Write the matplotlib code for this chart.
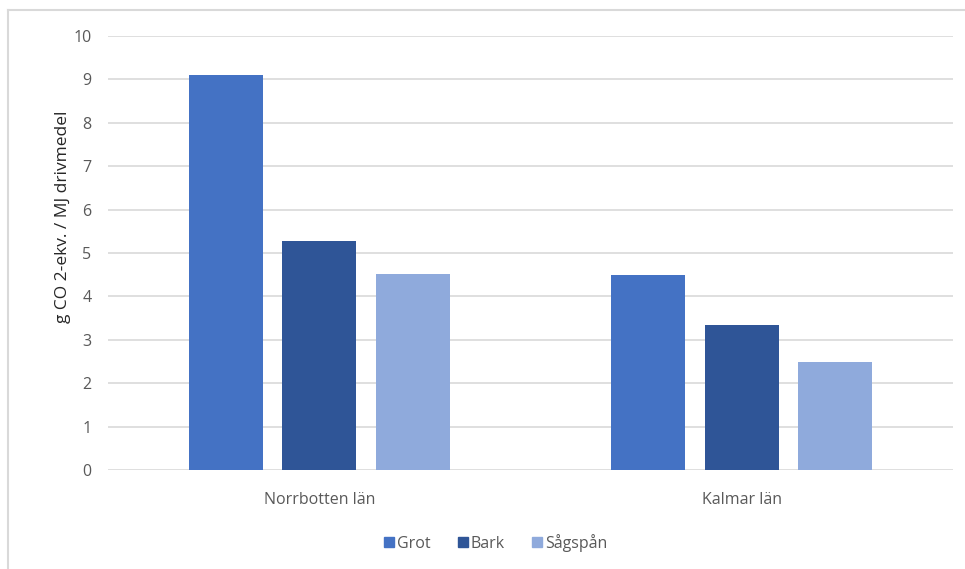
import numpy as np
import matplotlib.pyplot as plt
from matplotlib.lines import Line2D

plt.rcParams["font.family"] = ["Open Sans", "DejaVu Sans"]

regions = ["Norrbotten län", "Kalmar län"]
series = ["Grot", "Bark", "Sågspån"]
grot = [9.1, 4.5]
bark = [5.28, 3.35]
sagspan = [4.52, 2.5]
y_ticks = list(range(0, 11))

colors = ["#4472c4", "#2f5597", "#8faadc"]
TICK = "#595959"

fig = plt.figure(figsize=(9.65, 5.69), dpi=100)
ax = fig.add_axes([108 / 965, 1 - 470 / 569, 845 / 965, 434 / 569])

x = np.arange(len(regions))
width = 0.175
offset = 0.221
for i, (vals, name) in enumerate(zip([grot, bark, sagspan], series)):
    ax.bar(x + (i - 1) * offset, vals, width=width, color=colors[i],
           label=name, zorder=3)

ax.set_xlim(-0.5, 1.5)
ax.set_ylim(0, 10)
ax.set_yticks(y_ticks)
ax.set_xticks(x)
ax.set_xticklabels(regions)
ax.grid(axis="y", color="#d9d9d9", linewidth=1.2, zorder=0)
for s in ax.spines.values():
    s.set_visible(False)
ax.tick_params(axis="both", length=0, colors=TICK, labelsize=11.5)
ax.tick_params(axis="y", pad=12)
ax.tick_params(axis="x", pad=16)

fig.text(63 / 965, 1 - 217 / 569, "g CO 2-ekv. / MJ drivmedel", rotation=90,
         ha="center", va="center", fontsize=12.5, color="#262626")

handles = [Line2D([], [], marker="s", linestyle="none", markersize=7,
                  color=c) for c in colors]
fig.legend(handles, series, loc="center", bbox_to_anchor=(495 / 965, 1 - 543 / 569),
           ncol=3, frameon=False, fontsize=11.5, labelcolor=TICK,
           handletextpad=0.1, columnspacing=1.6, handlelength=0.8)

# chart frame
fig.add_artist(Line2D([8 / 965, 8 / 965], [0, 1 - 10 / 569], color="#d9d9d9",
                      linewidth=1.5, transform=fig.transFigure))
fig.add_artist(Line2D([8 / 965, 1], [1 - 10 / 569, 1 - 10 / 569], color="#d9d9d9",
                      linewidth=1.5, transform=fig.transFigure))

fig.savefig("out.png", dpi=100)
